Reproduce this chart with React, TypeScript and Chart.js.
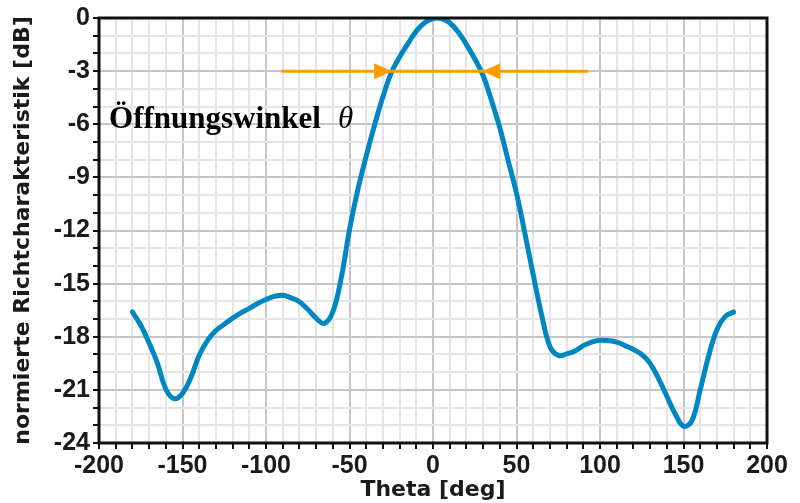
import { useEffect, useRef } from 'react';
import { Chart, registerables } from 'chart.js';

Chart.register(...registerables);

// ---- data ----
const thetaDeg = [
  -180, -175, -170, -165, -160, -155, -150, -145, -140, -135, -130, -125, -120, -115, -110, -105,
  -100, -95, -90, -85, -80, -75, -70, -65, -60, -55, -50, -45, -40, -35, -30, -25, -20, -15, -10,
  -5, 0, 2.5, 5, 10, 15, 20, 25, 30, 35, 40, 45, 50, 55, 60, 65, 70, 75, 80, 85, 90, 95, 100, 105,
  110, 115, 120, 125, 130, 135, 140, 145, 150, 155, 160, 165, 170, 175, 180,
];
const gainDb = [
  -16.6, -17.35, -18.35, -19.5, -20.95, -21.5, -21.2, -20.3, -19.05, -18.2, -17.65, -17.3, -16.95,
  -16.65, -16.4, -16.12, -15.9, -15.72, -15.66, -15.8, -16.02, -16.45, -16.95, -17.25, -16.6, -14.7,
  -11.95, -9.7, -7.8, -6.05, -4.45, -3.1, -2.2, -1.45, -0.74, -0.27, -0.03, 0, -0.03, -0.27, -0.78,
  -1.5, -2.3, -3.25, -4.65, -6.2, -8.05, -9.9, -12.15, -14.5, -16.75, -18.55, -19.05, -18.97, -18.8,
  -18.5, -18.3, -18.2, -18.22, -18.3, -18.5, -18.72, -19.0, -19.5, -20.35, -21.35, -22.35, -23.05,
  -22.75, -21.0, -19.1, -17.6, -16.85, -16.6,
];
const xTickLabels = [-200, -150, -100, -50, 0, 50, 100, 150, 200];
const yTickLabels = [0, -3, -6, -9, -12, -15, -18, -21, -24];
const halfPowerLevel = -3;
const markerSpan = [-91, 93];
const arrowTips = [-24.5, 29.5];
const annotationText = 'Öffnungswinkel';
const annotationSymbol = 'θ';
const annotationAnchor = [-194, -6.2];

const BLUE = '#0087c1';
const ORANGE = '#ff9c00';
const MAJOR_GRID = '#c6c6ca';
const MINOR_GRID = '#e5e5e8';
const INK = '#1a1a1a';

const overlayPlugin = {
  id: 'overlay',
  afterDatasetsDraw(chart: any) {
    const { ctx, scales } = chart;
    const xs = scales.x;
    const ys = scales.y;
    const yPix = ys.getPixelForValue(halfPowerLevel);
    ctx.save();
    ctx.strokeStyle = ORANGE;
    ctx.lineWidth = 3;
    ctx.beginPath();
    ctx.moveTo(xs.getPixelForValue(markerSpan[0]), yPix);
    ctx.lineTo(xs.getPixelForValue(markerSpan[1]), yPix);
    ctx.stroke();
    ctx.fillStyle = ORANGE;
    const headLen = 18;
    const headHalf = 8;
    arrowTips.forEach((v, i) => {
      const tip = xs.getPixelForValue(v);
      const dir = i === 0 ? 1 : -1;
      ctx.beginPath();
      ctx.moveTo(tip, yPix);
      ctx.lineTo(tip - dir * headLen, yPix - headHalf);
      ctx.lineTo(tip - dir * headLen, yPix + headHalf);
      ctx.closePath();
      ctx.fill();
    });
    const tx = xs.getPixelForValue(annotationAnchor[0]);
    const ty = ys.getPixelForValue(annotationAnchor[1]);
    ctx.fillStyle = '#000';
    ctx.textBaseline = 'alphabetic';
    ctx.textAlign = 'left';
    ctx.font = 'bold 31px "Liberation Serif"';
    ctx.fillText(annotationText, tx, ty);
    const w = ctx.measureText(annotationText).width;
    ctx.font = 'italic 31px "Liberation Serif"';
    ctx.fillText(annotationSymbol, tx + w + 17, ty);
    ctx.restore();
  },
  afterDraw(chart: any) {
    const { ctx, chartArea: a } = chart;
    ctx.save();
    ctx.strokeStyle = '#111';
    ctx.lineWidth = 3;
    ctx.strokeRect(a.left, a.top, a.right - a.left, a.bottom - a.top);
    ctx.restore();
  },
};

export default function App() {
  const ref = useRef<HTMLCanvasElement | null>(null);

  useEffect(() => {
    if (!ref.current) return;
    const points = thetaDeg.map((t, i) => ({ x: t, y: gainDb[i] }));
    const chart = new Chart(ref.current, {
      type: 'line',
      data: {
        datasets: [
          {
            data: points,
            borderColor: BLUE,
            borderWidth: 5,
            pointRadius: 0,
            fill: false,
            tension: 0.4,
            borderCapStyle: 'round',
            borderJoinStyle: 'round',
          },
        ],
      },
      options: {
        animation: false,
        responsive: false,
        devicePixelRatio: 1,
        layout: { padding: { top: 17, right: 33, left: 0, bottom: 0 } },
        plugins: { legend: { display: false }, tooltip: { enabled: false } },
        scales: {
          x: {
            type: 'linear',
            min: -200,
            max: 200,
            afterFit: (s: any) => {
              s.height = 60;
            },
            border: { display: false },
            grid: {
              color: (c: any) => (c.tick && c.tick.value % 50 === 0 ? MAJOR_GRID : MINOR_GRID),
              lineWidth: 2,
              tickColor: '#111',
              tickLength: 6,
              tickWidth: 2,
            },
            ticks: {
              stepSize: 10,
              autoSkip: false,
              maxRotation: 0,
              padding: 2,
              color: INK,
              font: { family: '"Liberation Sans", Arial', weight: 'bold', size: 25 },
              callback: (v: any) => (xTickLabels.includes(Number(v)) ? String(v) : ''),
            },
            title: {
              display: true,
              text: 'Theta [deg]',
              color: INK,
              padding: { top: 0, bottom: 0 },
              font: { family: '"DejaVu Sans"', weight: 'bold', size: 22 },
            },
          },
          y: {
            type: 'linear',
            min: -24,
            max: 0,
            afterFit: (s: any) => {
              s.width = 99;
            },
            border: { display: false },
            grid: {
              color: (c: any) => (c.tick && c.tick.value % 3 === 0 ? MAJOR_GRID : MINOR_GRID),
              lineWidth: 2,
              tickColor: '#111',
              tickLength: 6,
              tickWidth: 2,
            },
            ticks: {
              stepSize: 1,
              autoSkip: false,
              padding: 3,
              color: INK,
              font: { family: '"Liberation Sans", Arial', weight: 'bold', size: 25 },
              callback: (v: any) => (yTickLabels.includes(Number(v)) ? String(v) : ''),
            },
            title: {
              display: true,
              text: 'normierte Richtcharakteristik [dB]',
              color: INK,
              padding: { top: 10, bottom: 0 },
              font: { family: '"DejaVu Sans"', weight: 'bold', size: 22 },
            },
          },
        },
      },
      plugins: [overlayPlugin],
    });
    return () => chart.destroy();
  }, []);

  return (
    <div style={{ position: 'fixed', left: 0, top: 0, width: 800, height: 503, background: '#fff' }}>
      <canvas ref={ref} width={800} height={503} style={{ display: 'block' }} />
    </div>
  );
}
